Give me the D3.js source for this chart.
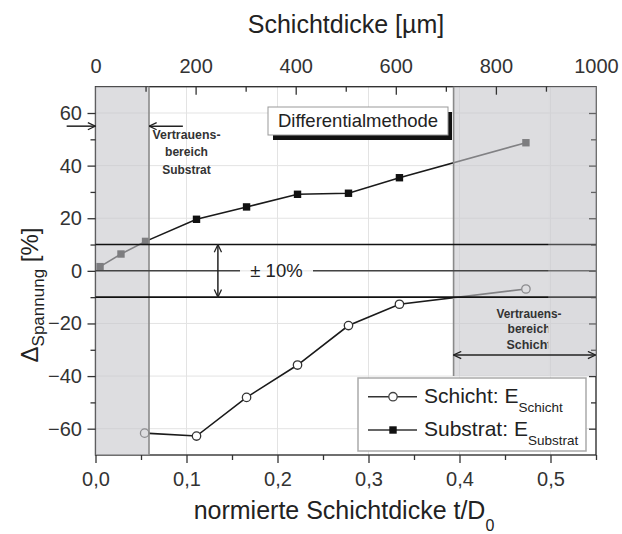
<!DOCTYPE html>
<html>
<head>
<meta charset="utf-8">
<script src="https://cdn.jsdelivr.net/npm/d3@7"></script>
<style>
  html, body { margin: 0; padding: 0; background: #fff; }
  svg { display: block; font-family: "Liberation Sans", Arial, sans-serif; }
</style>
</head>
<body>
<svg id="chart" width="622" height="534"></svg>
<script>
// Normalised layer thickness t/D0 and stress deviation [%]
const substratT = [0.005, 0.028, 0.055, 0.111, 0.166, 0.222, 0.278, 0.334, 0.473];
const substratValues = [1.6, 6.4, 11.2, 19.6, 24.3, 29.1, 29.5, 35.4, 48.7];
const schichtT = [0.054, 0.111, 0.166, 0.222, 0.278, 0.334, 0.473];
const schichtValues = [-61.7, -62.8, -48.1, -35.8, -20.8, -12.7, -6.9];

const xTicks = [0, 0.1, 0.2, 0.3, 0.4, 0.5];
const xMinorTicks = [0.05, 0.15, 0.25, 0.35, 0.45, 0.55];
const yTicks = [-60, -40, -20, 0, 20, 40, 60];
const yMinorTicks = [-50, -30, -10, 10, 30, 50];
const topTicks = [0, 200, 400, 600, 800, 1000];
const topMinorTicks = [100, 300, 500, 700, 900];

// Confidence ranges (t/D0) and tolerance band
const substratRange = [0, 0.0588];
const schichtRange = [0.3935, 0.55];
const tolerance = 10;

const svg = d3.select("#chart");
const L = 95.5, R = 596, T = 86.7, B = 455;

const x = d3.scaleLinear().domain([0, 0.55]).range([L, R]);
const xTop = d3.scaleLinear().domain([0, 1000]).range([L, R]);
const y = d3.scaleLinear().domain([-70, 70]).range([B, T]);

const fmtComma = v => d3.format(".1f")(v).replace(".", ",");

// grid
const grid = svg.append("g").attr("stroke", "#e3e3e3").attr("stroke-width", 1);
grid.selectAll(".gx").data(xTicks.slice(1)).join("line")
  .attr("x1", d => x(d)).attr("x2", d => x(d)).attr("y1", T).attr("y2", B);
grid.selectAll(".gy").data(yTicks).join("line")
  .attr("x1", L).attr("x2", R).attr("y1", d => y(d)).attr("y2", d => y(d));

// frame
svg.append("rect").attr("x", L).attr("y", T).attr("width", R - L).attr("height", B - T)
  .attr("fill", "none").attr("stroke", "#333").attr("stroke-width", 1.4);

// data lines + markers
const line = d3.line().x(d => x(d[0])).y(d => y(d[1]));
const subPts = substratT.map((t, i) => [t, substratValues[i]]);
const schPts = schichtT.map((t, i) => [t, schichtValues[i]]);

svg.append("path").datum(subPts).attr("d", line)
  .attr("fill", "none").attr("stroke", "#1a1a1a").attr("stroke-width", 1.6);
svg.append("path").datum(schPts).attr("d", line)
  .attr("fill", "none").attr("stroke", "#1a1a1a").attr("stroke-width", 1.6);

svg.append("g").selectAll("rect").data(subPts).join("rect")
  .attr("x", d => x(d[0]) - 3.7).attr("y", d => y(d[1]) - 3.7)
  .attr("width", 7.4).attr("height", 7.4).attr("fill", "#111");
svg.append("g").selectAll("circle").data(schPts).join("circle")
  .attr("cx", d => x(d[0])).attr("cy", d => y(d[1])).attr("r", 4.2)
  .attr("fill", "#fff").attr("stroke", "#333").attr("stroke-width", 1.3);

// shaded confidence ranges
const shade = svg.append("g");
shade.append("rect")
  .attr("x", x(substratRange[0])).attr("y", T)
  .attr("width", x(substratRange[1]) - x(substratRange[0])).attr("height", B - T)
  .attr("fill", "#c6c7cb").attr("fill-opacity", 0.6);
shade.append("rect")
  .attr("x", x(schichtRange[0])).attr("y", T)
  .attr("width", x(schichtRange[1]) - x(schichtRange[0])).attr("height", y(-40) - T)
  .attr("fill", "#c6c7cb").attr("fill-opacity", 0.6);
shade.append("line").attr("x1", x(substratRange[1])).attr("x2", x(substratRange[1]))
  .attr("y1", T).attr("y2", B).attr("stroke", "#8a8a8a").attr("stroke-width", 1.6);
shade.append("line").attr("x1", x(schichtRange[0])).attr("x2", x(schichtRange[0]))
  .attr("y1", T).attr("y2", y(-40)).attr("stroke", "#8a8a8a").attr("stroke-width", 1.6);

// axes
function styleAxis(g) {
  g.select(".domain").remove();
  g.selectAll("line").attr("stroke", "#333").attr("stroke-width", 1.3);
  g.selectAll("text").attr("fill", "#333").attr("font-size", 20)
    .attr("font-family", "'Liberation Sans', Arial, sans-serif");
}
svg.append("g").attr("transform", `translate(0,${B})`)
  .call(d3.axisBottom(x).tickValues(xTicks).tickSize(8).tickPadding(8.5).tickFormat(fmtComma))
  .call(styleAxis);
svg.append("g").attr("transform", `translate(0,${B})`)
  .call(d3.axisBottom(x).tickValues(xMinorTicks).tickSize(5).tickFormat(""))
  .call(styleAxis);
svg.append("g").attr("transform", `translate(${L},0)`)
  .call(d3.axisLeft(y).tickValues(yTicks).tickSize(8).tickPadding(5.5))
  .call(styleAxis);
svg.append("g").attr("transform", `translate(${L},0)`)
  .call(d3.axisLeft(y).tickValues(yMinorTicks).tickSize(5).tickFormat(""))
  .call(styleAxis);
// right: inward ticks
svg.append("g").attr("transform", `translate(${R},0)`)
  .call(d3.axisLeft(y).tickValues(yTicks).tickSize(7).tickFormat(""))
  .call(styleAxis);
svg.append("g").attr("transform", `translate(${R},0)`)
  .call(d3.axisLeft(y).tickValues(yMinorTicks).tickSize(5).tickFormat(""))
  .call(styleAxis);
// top: inward ticks + labels
svg.append("g").attr("transform", `translate(0,${T})`)
  .call(d3.axisBottom(xTop).tickValues(topTicks.filter(v => v > 0 && v < 1000)).tickSize(8).tickFormat(""))
  .call(styleAxis);
svg.append("g").attr("transform", `translate(0,${T})`)
  .call(d3.axisBottom(xTop).tickValues(topMinorTicks).tickSize(5).tickFormat(""))
  .call(styleAxis);
svg.append("g").attr("transform", `translate(0,${T})`)
  .call(d3.axisTop(xTop).tickValues(topTicks).tickSize(0).tickPadding(13.5).tickFormat(d3.format("d")))
  .call(styleAxis);

// tolerance band ±10 %
const band = svg.append("g");
[tolerance, -tolerance].forEach(v => {
  band.append("line").attr("x1", L).attr("x2", R).attr("y1", y(v)).attr("y2", y(v))
    .attr("stroke", "#111").attr("stroke-width", 1.6);
});
band.append("line").attr("x1", L).attr("x2", 240).attr("y1", y(0)).attr("y2", y(0))
  .attr("stroke", "#444").attr("stroke-width", 1.5);
band.append("line").attr("x1", 313).attr("x2", R).attr("y1", y(0)).attr("y2", y(0))
  .attr("stroke", "#444").attr("stroke-width", 1.5);
band.append("text").attr("x", 276.5).attr("y", y(0) + 6.5).attr("text-anchor", "middle")
  .attr("font-size", 18.5).attr("fill", "#222").text("± 10%");

// arrow heads
const defs = svg.append("defs");
defs.append("marker").attr("id", "head").attr("viewBox", "0 0 10 10")
  .attr("refX", 9.5).attr("refY", 5).attr("markerUnits", "userSpaceOnUse")
  .attr("markerWidth", 9).attr("markerHeight", 9).attr("orient", "auto-start-reverse")
  .append("path").attr("d", "M1,1 L9.5,5 L1,9").attr("fill", "none")
  .attr("stroke", "#222").attr("stroke-width", 1.4);

function arrow(x1, y1, x2, y2, both) {
  const a = svg.append("line").attr("x1", x1).attr("y1", y1).attr("x2", x2).attr("y2", y2)
    .attr("stroke", "#222").attr("stroke-width", 1.5).attr("marker-end", "url(#head)");
  if (both) a.attr("marker-start", "url(#head)");
}
arrow(x(0.1345), y(tolerance), x(0.1345), y(-tolerance), true);
arrow(x(-0.0317), y(55), x(substratRange[0]), y(55), false);
arrow(x(0.096), y(55), x(substratRange[1]), y(55), false);

// strip at the right edge of the plot
svg.append("rect").attr("x", x(0.4975)).attr("y", T)
  .attr("width", R - x(0.4975)).attr("height", y(-40) - T)
  .attr("fill", "#d6d7da").attr("fill-opacity", 0.3);

arrow(x(schichtRange[0]), y(-32), x(0.5495), y(-32), true);

// annotation texts
const annoFont = "'Liberation Sans Narrow', 'Arial Narrow', 'Liberation Sans', sans-serif";
const subText = ["Vertrauens-", "bereich", "Substrat"];
const subW = [68, 43, 48.5];
const subY = [50, 43.5, 36.7];
svg.append("g").selectAll("text").data(subText).join("text")
  .attr("x", x(0.1)).attr("y", (d, i) => y(subY[i])).attr("text-anchor", "middle")
  .attr("font-family", annoFont).attr("font-weight", "bold").attr("font-size", 12.5)
  .attr("fill", "#333").attr("textLength", (d, i) => subW[i]).attr("lengthAdjust", "spacingAndGlyphs")
  .text(d => d);

defs.append("clipPath").attr("id", "stripClip").append("rect")
  .attr("x", 0).attr("y", 0).attr("width", x(0.4975)).attr("height", 534);
const schText = ["Vertrauens-", "bereich", "Schicht"];
const schW = [65, 43, 45];
const schY = [-18, -23.7, -29.8];
svg.append("g").selectAll("text").data(schText).join("text")
  .attr("x", x(0.4764)).attr("y", (d, i) => y(schY[i])).attr("text-anchor", "middle")
  .attr("clip-path", (d, i) => i > 0 ? "url(#stripClip)" : null)
  .attr("font-family", annoFont).attr("font-weight", "bold").attr("font-size", 12.5)
  .attr("fill", "#333").attr("textLength", (d, i) => schW[i]).attr("lengthAdjust", "spacingAndGlyphs")
  .text(d => d);

// method label box
const box = svg.append("g");
box.append("rect").attr("x", 273).attr("y", 112).attr("width", 179).attr("height", 28).attr("fill", "#111");
box.append("rect").attr("x", 268).attr("y", 107).attr("width", 180).attr("height", 28)
  .attr("fill", "#fff").attr("stroke", "#999").attr("stroke-width", 1);
box.append("text").attr("x", 358).attr("y", 126.5).attr("text-anchor", "middle")
  .attr("font-size", 18.5).attr("fill", "#222").text("Differentialmethode");

// legend
const lg = svg.append("g");
lg.append("rect").attr("x", 358).attr("y", 378).attr("width", 228).attr("height", 73)
  .attr("fill", "#fff").attr("stroke", "#aaa").attr("stroke-width", 1.5);
const legendRows = [
  { main: "Schicht: E", sub: "Schicht", ly: 396.7, ty: 402.7, marker: "circle" },
  { main: "Substrat: E", sub: "Substrat", ly: 430, ty: 435.5, marker: "square" }
];
legendRows.forEach(r => {
  lg.append("line").attr("x1", 368).attr("x2", 417).attr("y1", r.ly).attr("y2", r.ly)
    .attr("stroke", "#333").attr("stroke-width", 1.6);
  if (r.marker === "circle") {
    lg.append("circle").attr("cx", 393).attr("cy", r.ly).attr("r", 4.2)
      .attr("fill", "#fff").attr("stroke", "#444").attr("stroke-width", 1.3);
  } else {
    lg.append("rect").attr("x", 389.3).attr("y", r.ly - 3.7).attr("width", 7.4).attr("height", 7.4)
      .attr("fill", "#111");
  }
  const t = lg.append("text").attr("x", 424).attr("y", r.ty).attr("font-size", 21).attr("fill", "#222");
  t.append("tspan").text(r.main);
  t.append("tspan").attr("dy", 9.5).attr("font-size", 13.5).text(r.sub);
});

// axis titles
svg.append("text").attr("x", 346).attr("y", 33).attr("text-anchor", "middle")
  .attr("font-size", 25).attr("fill", "#222").text("Schichtdicke [µm]");

const xt = svg.append("text").attr("x", 344).attr("y", 519).attr("text-anchor", "middle")
  .attr("font-size", 25).attr("fill", "#222");
xt.append("tspan").text("normierte Schichtdicke t/D");
xt.append("tspan").attr("dy", 12).attr("font-size", 16).text("0");

const yt = svg.append("text").attr("transform", "translate(38,295) rotate(-90)")
  .attr("text-anchor", "middle").attr("font-size", 24).attr("fill", "#222");
yt.append("tspan").text("Δ");
yt.append("tspan").attr("dy", 6).attr("font-size", 17).text("Spannung");
yt.append("tspan").attr("dy", -6).text(" [%]");
</script>
</body>
</html>
